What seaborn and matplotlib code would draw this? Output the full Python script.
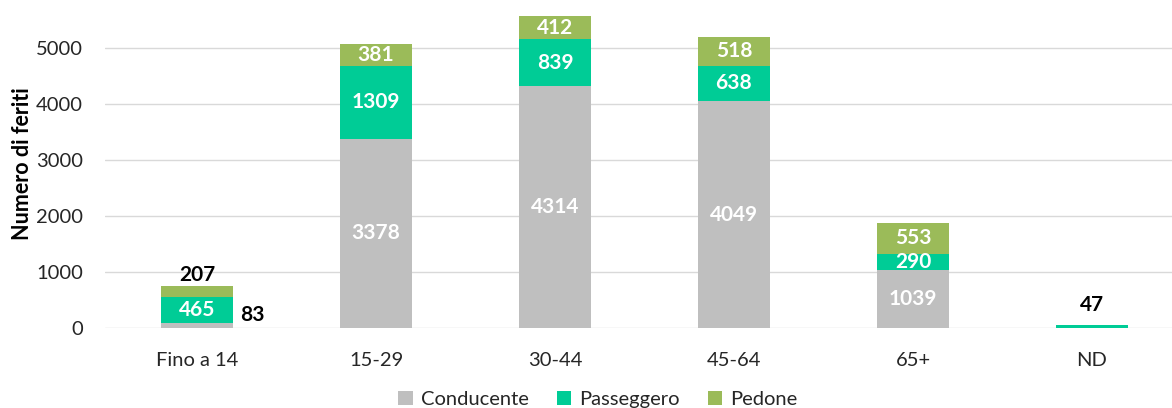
import numpy as np
import pandas as pd
import matplotlib
matplotlib.use('Agg')
import matplotlib.pyplot as plt
import seaborn as sns
from matplotlib.patches import Patch

# data
classi = ['Fino a 14', '15-29', '30-44', '45-64', '65+', 'ND']
conducente = [83, 3378, 4314, 4049, 1039, 0]
passeggero = [465, 1309, 839, 638, 290, 47]
pedone = [207, 381, 412, 518, 553, 0]

serie = ['Conducente', 'Passeggero', 'Pedone']
colori = ['#BFBFBF', '#00CC96', '#9BBB59']

sns.set_theme(style='white')
plt.rcParams['font.family'] = ['Lato', 'DejaVu Sans']

df = pd.DataFrame({'classe': classi, 'Conducente': conducente,
                   'Passeggero': passeggero, 'Pedone': pedone})

fig = plt.figure(figsize=(11.72, 4.08), dpi=100)
ax = fig.add_axes([0.0896, 0.196, 0.9104, 0.804])

base = np.zeros(len(df))
for nome, col in zip(serie, colori):
    sns.barplot(data=df, x='classe', y=nome, color=col, width=0.4,
                bottom=base, ax=ax, saturation=1, zorder=3,
                linewidth=0, edgecolor='none')
    base = base + df[nome].values

# etichette dei valori
fs = 15
base = np.zeros(len(df))
tot = df[serie].sum(axis=1).values
for nome in serie:
    vals = df[nome].values
    for i, v in enumerate(vals):
        if v == 0:
            continue
        if v < 150 and nome == 'Conducente':
            ax.text(i + 0.31, 240, str(v), ha='center', va='center',
                    fontsize=fs, fontweight='bold', color='black', zorder=5)
        elif nome == 'Pedone' and i == 0:
            ax.text(i, tot[i] + 20, str(v), ha='center', va='bottom',
                    fontsize=fs, fontweight='bold', color='black', zorder=5)
        elif v < 100:
            ax.text(i, tot[i] + 180, str(v), ha='center', va='bottom',
                    fontsize=fs, fontweight='bold', color='black', zorder=5)
        else:
            ax.text(i, base[i] + v / 2, str(v), ha='center', va='center',
                    fontsize=fs, fontweight='bold', color='white', zorder=5)
    base = base + vals

ax.set_xlim(-0.514, 5.447)
ax.set_ylim(0, 5857)
ax.set_yticks(range(0, 5001, 1000))
ax.yaxis.grid(True, color='#D9D9D9', linewidth=1, zorder=0)
ax.set_axisbelow(True)
for s in ax.spines.values():
    s.set_visible(False)
ax.tick_params(axis='both', length=0, labelsize=14.5, colors='#262626')
ax.tick_params(axis='y', pad=16)
ax.tick_params(axis='x', pad=17)
ax.set_xlabel('')
ax.set_ylabel('Numero di feriti', fontsize=15.5, fontweight='bold', color='black', labelpad=2)

maniglie = [Patch(facecolor=c, edgecolor='none') for c in colori]
fig.legend(maniglie, serie, loc='lower center', ncol=3, frameon=False,
           bbox_to_anchor=(0.51, -0.045), fontsize=14.5, handlelength=0.7,
           handleheight=0.7, columnspacing=1.4, handletextpad=0.4,
           labelcolor='#262626')

fig.savefig('out.png', dpi=100)
